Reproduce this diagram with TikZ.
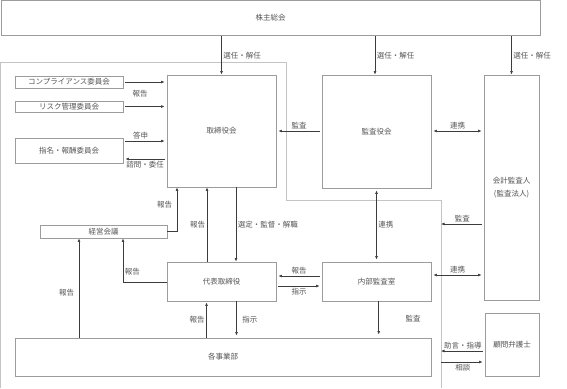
\documentclass[tikz,border=0pt]{standalone}
\usepackage{fontspec}
\newfontfamily\jpfont{Noto Sans CJK JP}
\usetikzlibrary{arrows.meta, positioning}
\definecolor{boxgray}{HTML}{9C9C9C}
\definecolor{linegray}{HTML}{3C3C3C}
\definecolor{textgray}{HTML}{555555}
\definecolor{areagray}{HTML}{C4C4C4}

\begin{document}
\begin{tikzpicture}[x=1pt, y=-1pt, font=\jpfont\fontsize{7.5}{9}\selectfont, text=textgray,
  >={Latex[length=3.5pt,width=2.8pt]},
  box/.style 2 args={draw=boxgray, line width=0.8pt, minimum width=#1, minimum height=#2, inner sep=0pt, align=center},
  flow/.style={draw=linegray, line width=0.6pt, ->},
  gap/.style={shorten <=2pt, shorten >=2pt},
  lbl/.style={inner sep=1.5pt}]
  \useasboundingbox (0,0) rectangle (567,388);
  \fill[white] (0,0) rectangle (567,388);
  % company area
  \draw[areagray, line width=0.8pt] (0.5,388) -- (0.5,62) -- (286,62) -- (286,200) -- (441,200) -- (441,388);
  \coordinate (auditin) at (441,224);
  \coordinate (adviceout) at (441,351);
  \coordinate (consultin) at (441,362);

  \node[box={539pt}{35pt}] (soukai) at (270.5,18) {株主総会};
  \node[box={109pt}{112pt}] (board) at (221.5,131) {取締役会};
  \node[box={109pt}{113pt}] (kansa) at (376.5,131.5) {監査役会};
  \node[box={55pt}{225pt}, font=\jpfont\fontsize{7.5}{13}\selectfont] (kaikei) at (511.5,187.5) {会計監査人\\(監査法人)};
  \node[box={108pt}{12pt}] (compliance) at (69,82) {コンプライアンス委員会};
  \node[box={108pt}{11pt}] (risk) at (69,106.5) {リスク管理委員会};
  \node[box={108pt}{25pt}] (nomination) at (69,150.5) {指名・報酬委員会};
  \node[box={127pt}{13pt}] (keiei) at (103.5,231.5) {経営会議};
  \node[box={109pt}{39pt}] (daihyo) at (221.5,281.5) {代表取締役};
  \node[box={109pt}{39pt}] (naibu) at (376.5,281.5) {内部監査室};
  \node[box={416pt}{38pt}] (jigyo) at (223,357) {各事業部};
  \node[box={54pt}{63pt}] (komon) at (512,344.5) {顧問弁護士};

  % shareholders
  \draw[flow] (board.north |- soukai.south) -- node[lbl, right, pos=0.52]{選任・解任} (board.north);
  \draw[flow] (375,0 |- soukai.south) -- node[lbl, right, pos=0.52]{選任・解任} (375,0 |- kansa.north);
  \draw[flow] (kaikei.north |- soukai.south) -- node[lbl, right, pos=0.52]{選任・解任} (kaikei.north);

  % committees
  \draw[flow, gap] (compliance.east) -- (compliance.east -| board.west);
  \draw[flow, gap] (risk.east) -- (risk.east -| board.west);
  \node[lbl] (report1) at (140,94) {報告};
  \draw[flow, gap] (nomination.east |- 0,141) -- node[lbl, above, pos=0.4]{答申} (board.west |- 0,141);
  \draw[flow, gap] (board.west |- 0,159) -- node[lbl, below, pos=0.5]{諮問・委任} (nomination.east |- 0,159);

  % audit
  \draw[flow, gap] (kansa.west |- 0,131) -- node[lbl, above, pos=0.5]{監査} (board.east |- 0,131);
  \draw[flow, gap, <->] (kansa.east |- 0,131) -- node[lbl, above]{連携} (kaikei.west |- 0,131);
  \draw[flow, gap, <->] (kansa.south) -- node[lbl, right]{連携} (naibu.north);
  \draw[flow, shorten <=2pt] (kaikei.west |- auditin) -- node[lbl, above]{監査} (auditin);
  \draw[flow, gap, <->] (naibu.east |- 0,275) -- node[lbl, above]{連携} (kaikei.west |- 0,275);

  % management
  \draw[flow] (keiei.east) -| node[lbl, left, pos=0.8, xshift=-3pt]{報告} (board.south -| 177,0);
  \draw[flow] (daihyo.north -| 207,0) -- node[lbl, left]{報告} (board.south -| 207,0);
  \draw[flow] (board.south -| 236,0) -- node[lbl, right]{選定・監督・解職} (daihyo.north -| 236,0);
  \draw[flow, gap] (naibu.west |- 0,276) -- node[lbl, above]{報告} (daihyo.east |- 0,276);
  \draw[flow, gap] (daihyo.east |- 0,286) -- node[lbl, below]{指示} (naibu.west |- 0,286);
  \draw[flow] (daihyo.west |- 0,282) -| node[lbl, above right, pos=0.5, yshift=5pt]{報告} (keiei.south -| 123,0);
  \draw[flow] (jigyo.north -| 79,0) -- node[lbl, left, pos=0.45, xshift=-3pt]{報告} (keiei.south -| 79,0);

  % divisions
  \draw[flow, shorten >=1pt] (jigyo.north -| 206.5,0) -- node[lbl, left]{報告} (daihyo.south -| 206.5,0);
  \draw[flow, shorten >=2pt] (daihyo.south -| 236.5,0) -- node[lbl, right, xshift=4pt]{指示} (jigyo.north -| 236.5,0);
  \draw[flow, shorten >=3pt] (naibu.south -| 378.7,0) -- (jigyo.north -| 378.7,0);
  \node[lbl] (audit2) at (413,319) {監査};

  % lawyer
  \draw[flow, shorten <=2pt] (komon.west |- adviceout) -- node[lbl, above]{助言・指導} (adviceout);
  \draw[flow, shorten >=2pt] (consultin) -- node[lbl, below]{相談} (komon.west |- consultin);
\end{tikzpicture}
\end{document}
